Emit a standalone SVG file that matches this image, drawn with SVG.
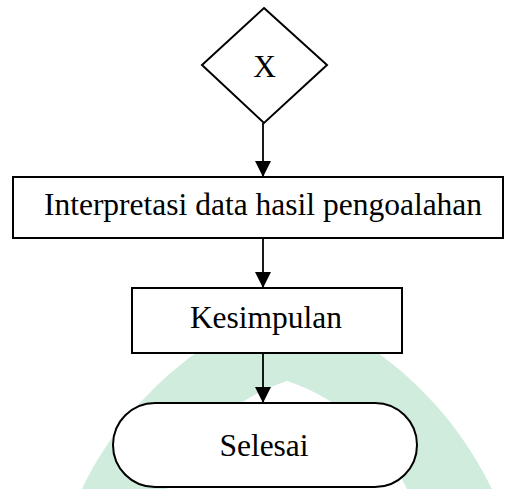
<svg xmlns="http://www.w3.org/2000/svg" width="505" height="489" viewBox="0 0 505 489">
  <style>
    .shape { fill: #ffffff; stroke: #000000; stroke-width: 2; }
    .label { font-family: "Liberation Serif", "Times New Roman", serif; font-size: 31.5px; fill: #000000; text-anchor: middle; }
    .edge { stroke: #000000; stroke-width: 1.8; fill: none; }
  </style>
  <defs>
    <marker id="arrow" markerUnits="userSpaceOnUse" markerWidth="16" markerHeight="16" refX="16" refY="8" orient="auto">
      <path d="M0,0 L16,8 L0,16 Z" fill="#000000"/>
    </marker>
  </defs>
  <rect width="505" height="489" fill="#ffffff"/>

  <!-- background emblem band -->
  <path id="emblem" fill="#d0ecdd" fill-rule="evenodd"
        d="M 82 489 C 120 410, 190 340, 287 305 C 384 340, 454 410, 492 489 Z
           M 167 489 C 190 440, 230 400, 287 381 C 344 400, 384 440, 407 489 Z"/>

  <g id="connectors">
    <line class="edge" x1="263" y1="123" x2="263" y2="177" marker-end="url(#arrow)"/>
    <line class="edge" x1="263" y1="238" x2="263" y2="288" marker-end="url(#arrow)"/>
    <line class="edge" x1="263" y1="353" x2="263" y2="403" marker-end="url(#arrow)"/>
  </g>

  <g id="decision-x">
    <polygon class="shape" points="264,8 327,65 264,123 202,65"/>
    <text class="label" x="264.5" y="77">X</text>
  </g>

  <g id="interpretasi">
    <rect class="shape" x="13" y="177" width="490" height="61"/>
    <text class="label" x="263" y="215">Interpretasi data hasil pengoalahan</text>
  </g>

  <g id="kesimpulan">
    <rect class="shape" x="132" y="288" width="270" height="65"/>
    <text class="label" x="266" y="328">Kesimpulan</text>
  </g>

  <g id="selesai">
    <rect class="shape" x="113" y="403" width="304" height="84" rx="42" ry="42"/>
    <text class="label" x="264" y="456">Selesai</text>
  </g>
</svg>
